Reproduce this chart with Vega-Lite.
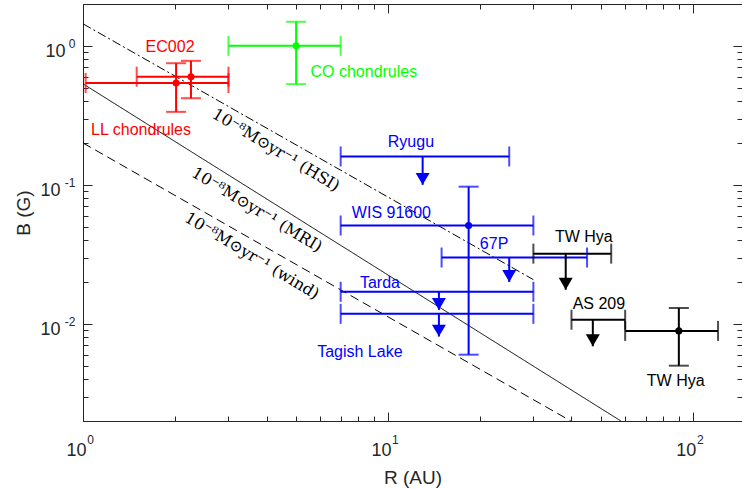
{
  "$schema": "https://vega.github.io/schema/vega-lite/v6.json",
  "width": 659,
  "height": 417,
  "autosize": {"type": "none"},
  "padding": {"left": 83, "top": 4, "right": 0, "bottom": 68},
  "background": "white",
  "config": {
    "view": {"stroke": null},
    "font": "Liberation Sans",
    "axis": {
      "grid": false,
      "domainColor": "#262626",
      "tickColor": "#262626",
      "labelColor": "#262626",
      "titleColor": "#262626",
      "labelFont": "Liberation Sans",
      "titleFont": "Liberation Sans",
      "titleFontSize": 19,
      "titleFontWeight": "normal",
      "labelFlush": false,
      "labelOverlap": false
    }
  },
  "datasets": {
    "obj": [
      {"name": "LL chondrules", "kind": "det", "color": "#ff0000", "R": 2.02, "Rlo": 1.02, "Rhi": 3.0, "B": 0.54, "Blo": 0.335, "Bhi": 0.75, "Btip": null},
      {"name": "EC002", "kind": "det", "color": "#ff0000", "R": 2.26, "Rlo": 1.5, "Rhi": 3.0, "B": 0.6, "Blo": 0.42, "Bhi": 0.78, "Btip": null},
      {"name": "CO chondrules", "kind": "det", "color": "#00ff00", "R": 5.0, "Rlo": 3.0, "Rhi": 7.0, "B": 1.0, "Blo": 0.53, "Bhi": 1.49, "Btip": null},
      {"name": "WIS 91600", "kind": "det", "color": "#0000ff", "R": 18.4, "Rlo": 7.0, "Rhi": 30.0, "B": 0.051, "Blo": 0.006, "Bhi": 0.097, "Btip": null},
      {"name": "TW Hya", "kind": "det", "color": "#000000", "R": 90.0, "Rlo": 60.0, "Rhi": 121.0, "B": 0.0089, "Blo": 0.005, "Bhi": 0.013, "Btip": null},
      {"name": "Ryugu", "kind": "lim", "color": "#0000ff", "R": 13.0, "Rlo": 7.0, "Rhi": 25.0, "B": 0.16, "Blo": null, "Bhi": null, "Btip": 0.1},
      {"name": "67P", "kind": "lim", "color": "#0000ff", "R": 25.0, "Rlo": 15.0, "Rhi": 45.0, "B": 0.03, "Blo": null, "Bhi": null, "Btip": 0.02},
      {"name": "Tarda", "kind": "lim", "color": "#0000ff", "R": 14.7, "Rlo": 7.0, "Rhi": 30.0, "B": 0.017, "Blo": null, "Bhi": null, "Btip": 0.0126},
      {"name": "Tagish Lake", "kind": "lim", "color": "#0000ff", "R": 14.7, "Rlo": 7.0, "Rhi": 30.0, "B": 0.0118, "Blo": null, "Bhi": null, "Btip": 0.0081},
      {"name": "TW Hya UL", "kind": "lim", "color": "#000000", "R": 38.3, "Rlo": 30.0, "Rhi": 54.0, "B": 0.032, "Blo": null, "Bhi": null, "Btip": 0.0176},
      {"name": "AS 209", "kind": "lim", "color": "#000000", "R": 47.0, "Rlo": 40.0, "Rhi": 60.0, "B": 0.0107, "Blo": null, "Bhi": null, "Btip": 0.0069}
    ],
    "lines": [
      {"line": "HSI", "R": 1.0, "B": 1.44},
      {"line": "HSI", "R": 30.0, "B": 0.0208},
      {"line": "MRI", "R": 1.0, "B": 0.533},
      {"line": "MRI", "R": 58.1, "B": 0.002},
      {"line": "wind", "R": 1.0, "B": 0.2},
      {"line": "wind", "R": 39.8, "B": 0.002}
    ],
    "labels": [
      {"text": "EC002", "color": "#ff0000", "R": 1.93, "B": 0.98},
      {"text": "LL chondrules", "color": "#ff0000", "R": 1.55, "B": 0.249},
      {"text": "CO chondrules", "color": "#00ff00", "R": 8.34, "B": 0.65},
      {"text": "Ryugu", "color": "#0000ff", "R": 11.9, "B": 0.204},
      {"text": "WIS 91600", "color": "#0000ff", "R": 10.27, "B": 0.0629},
      {"text": "67P", "color": "#0000ff", "R": 22.3, "B": 0.0376},
      {"text": "Tarda", "color": "#0000ff", "R": 9.42, "B": 0.0197},
      {"text": "Tagish Lake", "color": "#0000ff", "R": 8.09, "B": 0.0063},
      {"text": "TW Hya", "color": "#000000", "R": 43.9, "B": 0.0423},
      {"text": "AS 209", "color": "#000000", "R": 49.2, "B": 0.0139},
      {"text": "TW Hya", "color": "#000000", "R": 87.9, "B": 0.0039}
    ],
    "lineLabels": [
      {"text": "10⁻⁸M⊙yr⁻¹  (HSI)", "R": 4.29, "B": 0.178},
      {"text": "10⁻⁸M⊙yr⁻¹  (MRI)", "R": 3.72, "B": 0.066},
      {"text": "10⁻⁸M⊙yr⁻¹  (wind)", "R": 3.58, "B": 0.0308}
    ]
  },
  "resolve": {"axis": {"x": "independent", "y": "independent"}},
  "layer": [
    {
      "data": {"name": "lines"},
      "mark": {"type": "line", "color": "black", "strokeWidth": 1, "clip": true},
      "encoding": {
        "x": {"field": "R", "type": "quantitative", "scale": {"type": "log", "domain": [1, 145], "nice": false},
          "axis": {"orient": "bottom", "title": null, "labels": false,
            "tickSize": {"condition": {"test": "datum.value == 1 || datum.value == 10 || datum.value == 100", "value": -9}, "value": -5},
            "values": [1,2,3,4,5,6,7,8,9,10,20,30,40,50,60,70,80,90,100]}},
        "y": {"field": "B", "type": "quantitative", "scale": {"type": "log", "domain": [0.002, 2], "nice": false},
          "axis": {"orient": "left", "title": null, "labels": false,
            "tickSize": {"condition": {"test": "datum.value == 1 || datum.value == 0.1 || datum.value == 0.01", "value": -9}, "value": -5},
            "values": [0.002,0.003,0.004,0.005,0.006,0.007,0.008,0.009,0.01,0.02,0.03,0.04,0.05,0.06,0.07,0.08,0.09,0.1,0.2,0.3,0.4,0.5,0.6,0.7,0.8,0.9,1,2]}},
        "detail": {"field": "line", "type": "nominal"},
        "strokeDash": {"field": "line", "type": "nominal", "legend": null,
          "scale": {"domain": ["HSI", "MRI", "wind"], "range": [[9, 3, 2, 3], [1, 0], [9, 5]]}}
      }
    },
    {
      "data": {"name": "obj"},
      "mark": {"type": "rule", "strokeWidth": 2},
      "encoding": {
        "x": {"field": "Rlo", "type": "quantitative",
          "axis": {"orient": "bottom", "values": [1, 10, 100], "ticks": false, "domain": false,
            "labelExpr": "'10'", "labelFontSize": 18, "labelPadding": 20, "labelOffset": -7,
            "title": "R (AU)", "titlePadding": 9}},
        "x2": {"field": "Rhi"},
        "y": {"field": "B", "type": "quantitative",
          "axis": {"orient": "left", "values": [0.01, 0.1, 1], "ticks": false, "domain": false,
            "labelExpr": "'10'", "labelFontSize": 18, "labelBaseline": "alphabetic", "labelOffset": 11,
            "labelPadding": {"condition": {"test": "datum.value == 1", "value": 18}, "value": 23},
            "title": "B (G)", "titlePadding": 6}},
        "color": {"field": "color", "type": "nominal", "scale": null}
      }
    },
    {
      "data": {"name": "obj"},
      "mark": {"type": "tick", "orient": "vertical", "size": 20, "thickness": 2},
      "encoding": {
        "x": {"field": "Rlo", "type": "quantitative",
          "axis": {"orient": "bottom", "values": [1, 10, 100], "ticks": false, "domain": false,
            "labelExpr": "datum.value == 1 ? '0' : datum.value == 10 ? '1' : '2'",
            "labelFontSize": 12, "labelPadding": 13, "labelOffset": 7, "title": null}},
        "y": {"field": "B", "type": "quantitative",
          "axis": {"orient": "left", "values": [0.01, 0.1, 1], "ticks": false, "domain": false,
            "labelExpr": "datum.value == 1 ? '0' : datum.value == 0.1 ? '-1' : '-2'",
            "labelFontSize": 12, "labelBaseline": "alphabetic", "labelOffset": 2, "labelPadding": 8, "title": null}},
        "color": {"field": "color", "type": "nominal", "scale": null}
      }
    },
    {
      "data": {"name": "obj"},
      "mark": {"type": "tick", "orient": "vertical", "size": 20, "thickness": 2},
      "encoding": {
        "x": {"field": "Rhi", "type": "quantitative", "axis": null},
        "y": {"field": "B", "type": "quantitative", "axis": null},
        "color": {"field": "color", "type": "nominal", "scale": null}
      }
    },
    {
      "data": {"name": "obj"},
      "transform": [{"filter": "datum.kind == 'det'"}],
      "mark": {"type": "rule", "strokeWidth": 2},
      "encoding": {
        "x": {"field": "R", "type": "quantitative", "axis": null},
        "y": {"field": "Blo", "type": "quantitative", "axis": null},
        "y2": {"field": "Bhi"},
        "color": {"field": "color", "type": "nominal", "scale": null}
      }
    },
    {
      "data": {"name": "obj"},
      "transform": [{"filter": "datum.kind == 'det'"}],
      "mark": {"type": "tick", "orient": "horizontal", "size": 20, "thickness": 2},
      "encoding": {
        "x": {"field": "R", "type": "quantitative", "axis": null},
        "y": {"field": "Blo", "type": "quantitative", "axis": null},
        "color": {"field": "color", "type": "nominal", "scale": null}
      }
    },
    {
      "data": {"name": "obj"},
      "transform": [{"filter": "datum.kind == 'det'"}],
      "mark": {"type": "tick", "orient": "horizontal", "size": 20, "thickness": 2},
      "encoding": {
        "x": {"field": "R", "type": "quantitative", "axis": null},
        "y": {"field": "Bhi", "type": "quantitative", "axis": null},
        "color": {"field": "color", "type": "nominal", "scale": null}
      }
    },
    {
      "data": {"name": "obj"},
      "transform": [{"filter": "datum.kind == 'det'"}],
      "mark": {"type": "point", "filled": true, "size": 50, "opacity": 1},
      "encoding": {
        "x": {"field": "R", "type": "quantitative", "axis": null},
        "y": {"field": "B", "type": "quantitative", "axis": null},
        "color": {"field": "color", "type": "nominal", "scale": null}
      }
    },
    {
      "data": {"name": "obj"},
      "transform": [{"filter": "datum.kind == 'lim'"}],
      "mark": {"type": "rule", "strokeWidth": 2},
      "encoding": {
        "x": {"field": "R", "type": "quantitative", "axis": null},
        "y": {"field": "B", "type": "quantitative", "axis": null},
        "y2": {"field": "Btip"},
        "color": {"field": "color", "type": "nominal", "scale": null}
      }
    },
    {
      "data": {"name": "obj"},
      "transform": [{"filter": "datum.kind == 'lim'"}],
      "mark": {"type": "point", "filled": true, "opacity": 1, "size": 196, "shape": "M-1,-1.7L1,-1.7L0,0Z"},
      "encoding": {
        "x": {"field": "R", "type": "quantitative", "axis": null},
        "y": {"field": "Btip", "type": "quantitative", "axis": null},
        "color": {"field": "color", "type": "nominal", "scale": null}
      }
    },
    {
      "data": {"name": "labels"},
      "mark": {"type": "text", "font": "Liberation Sans", "fontSize": 16, "align": "center", "baseline": "middle"},
      "encoding": {
        "x": {"field": "R", "type": "quantitative", "axis": null},
        "y": {"field": "B", "type": "quantitative", "axis": null},
        "text": {"field": "text"},
        "color": {"field": "color", "type": "nominal", "scale": null}
      }
    },
    {
      "data": {"name": "lineLabels"},
      "mark": {"type": "text", "font": "DejaVu Serif", "fontSize": 16, "align": "center", "baseline": "middle", "angle": 31, "color": "black"},
      "encoding": {
        "x": {"field": "R", "type": "quantitative",
          "axis": {"orient": "top", "labels": false, "title": null,
            "tickSize": {"condition": {"test": "datum.value == 1 || datum.value == 10 || datum.value == 100", "value": -9}, "value": -5},
            "values": [1,2,3,4,5,6,7,8,9,10,20,30,40,50,60,70,80,90,100]}},
        "y": {"field": "B", "type": "quantitative",
          "axis": {"orient": "right", "labels": false, "title": null,
            "tickSize": {"condition": {"test": "datum.value == 1 || datum.value == 0.1 || datum.value == 0.01", "value": -9}, "value": -5},
            "values": [0.002,0.003,0.004,0.005,0.006,0.007,0.008,0.009,0.01,0.02,0.03,0.04,0.05,0.06,0.07,0.08,0.09,0.1,0.2,0.3,0.4,0.5,0.6,0.7,0.8,0.9,1,2]}},
        "text": {"field": "text"}
      }
    }
  ]
}
